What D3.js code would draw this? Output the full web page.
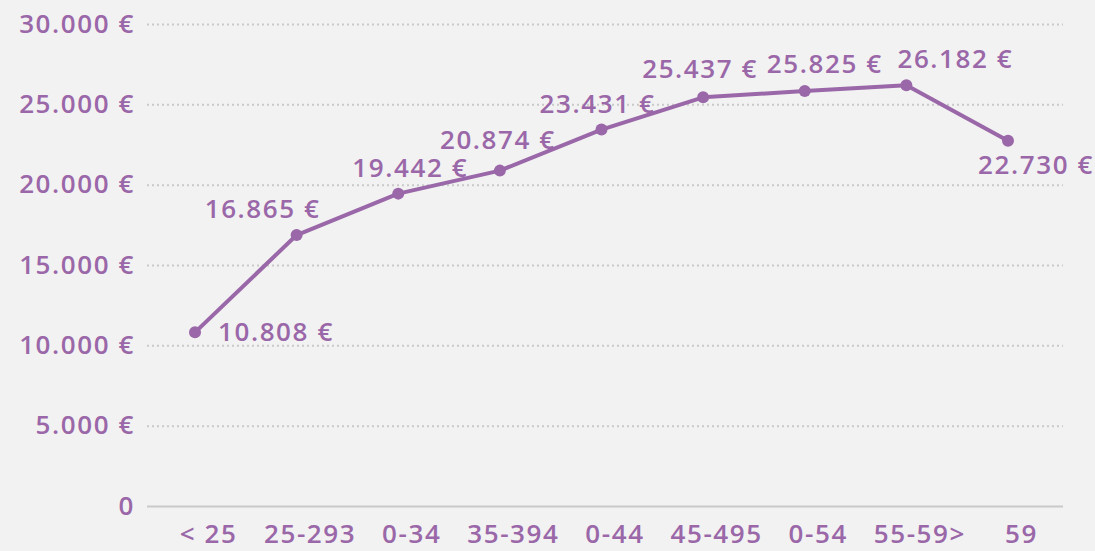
<!DOCTYPE html>
<html>
<head>
  <meta charset='utf-8'>
  <title>Salario medio por edad</title>
  <script src="https://cdn.jsdelivr.net/npm/d3@7"></script>
  <style>
    body { margin: 0; background: #f2f2f2; }
    text { font-family: "Open Sans", Lato, sans-serif; font-weight: 600; fill: #9a67a8; letter-spacing: 1.6px; }
  </style>
</head>
<body>
  <svg width="1095" height="551" id="chart"></svg>
  <script>
    // data
    const categories = ["< 25", "25-293", "0-34", "35-394", "0-44", "45-495", "0-54", "55-59>", "59"];
    const values = [10808, 16865, 19442, 20874, 23431, 25437, 25825, 26182, 22730];
    const yTicks = [0, 5000, 10000, 15000, 20000, 25000, 30000];

    // where each value label sits relative to its point [dx, dy]
    const labelOffsets = [[23, 0], [-34, -26], [12, -26], [-2, -31], [-4, -26], [-3, -28], [20, -27], [49, -26], [28, 24]];

    const purple = "#9a67a8";
    const margin = { top: 24, right: 32, bottom: 45, left: 147 };
    const width = 1095, height = 551;
    const fontSize = '26px';

    const svg = d3.select('#chart');
    svg.append('rect').attr('width', width).attr('height', height).attr('fill', '#f2f2f2');

    const x = d3.scalePoint()
      .domain(categories)
      .range([margin.left, width - 39])
      .padding(0.4724);

    const y = d3.scaleLinear()
      .domain([0, 30000])
      .range([height - margin.bottom, margin.top]);

    const fmt = v => v === 0 ? "0" : d3.format(",")(v).replace(/,/g, ".") + " €";

    // grid + y labels
    const yAxis = d3.axisLeft(y)
      .tickValues(yTicks)
      .tickSize(-(width - margin.left - margin.right))
      .tickPadding(12)
      .tickFormat(fmt);

    const gy = svg.append('g')
      .attr('transform', `translate(${margin.left},0)`)
      .call(yAxis);
    gy.select('.domain').remove();
    gy.selectAll('.tick line')
      .attr('stroke', '#c9c9c9')
      .attr('stroke-width', 2)
      .attr('stroke-dasharray', d => d === 0 ? null : '2,3');
    gy.selectAll('.tick text')
      .attr('fill', purple)
      .style('font-size', fontSize);

    // x labels
    const xAxis = d3.axisBottom(x).tickSize(0).tickPadding(19);
    const gx = svg.append('g')
      .attr('transform', `translate(0,${height - margin.bottom})`)
      .call(xAxis);
    gx.select('.domain').remove();
    gx.selectAll('.tick text')
      .attr('fill', purple)
      .attr('dx', 13)
      .style('font-size', fontSize);

    const pts = categories.map((c, i) => ({ c: c, v: values[i], off: labelOffsets[i] }));

    // line
    svg.append('path')
      .datum(pts)
      .attr('fill', 'none')
      .attr('stroke', purple)
      .attr('stroke-width', 4)
      .attr('stroke-linejoin', 'round')
      .attr('d', d3.line().x(d => x(d.c)).y(d => y(d.v)));

    svg.selectAll('.dot')
      .data(pts)
      .join('circle')
      .classed('dot', true)
      .attr('cx', d => x(d.c))
      .attr('cy', d => y(d.v))
      .attr('r', 6)
      .attr('fill', purple);

    svg.selectAll('.vlabel')
      .data(pts)
      .join('text')
      .classed('vlabel', true)
      .attr('x', d => x(d.c) + d.off[0])
      .attr('y', d => y(d.v) + d.off[1])
      .attr('dy', '0.35em')
      .attr('text-anchor', (d, i) => i === 0 ? 'start' : 'middle')
      .style('font-size', fontSize)
      .text(d => fmt(d.v));
  </script>
</body>
</html>
